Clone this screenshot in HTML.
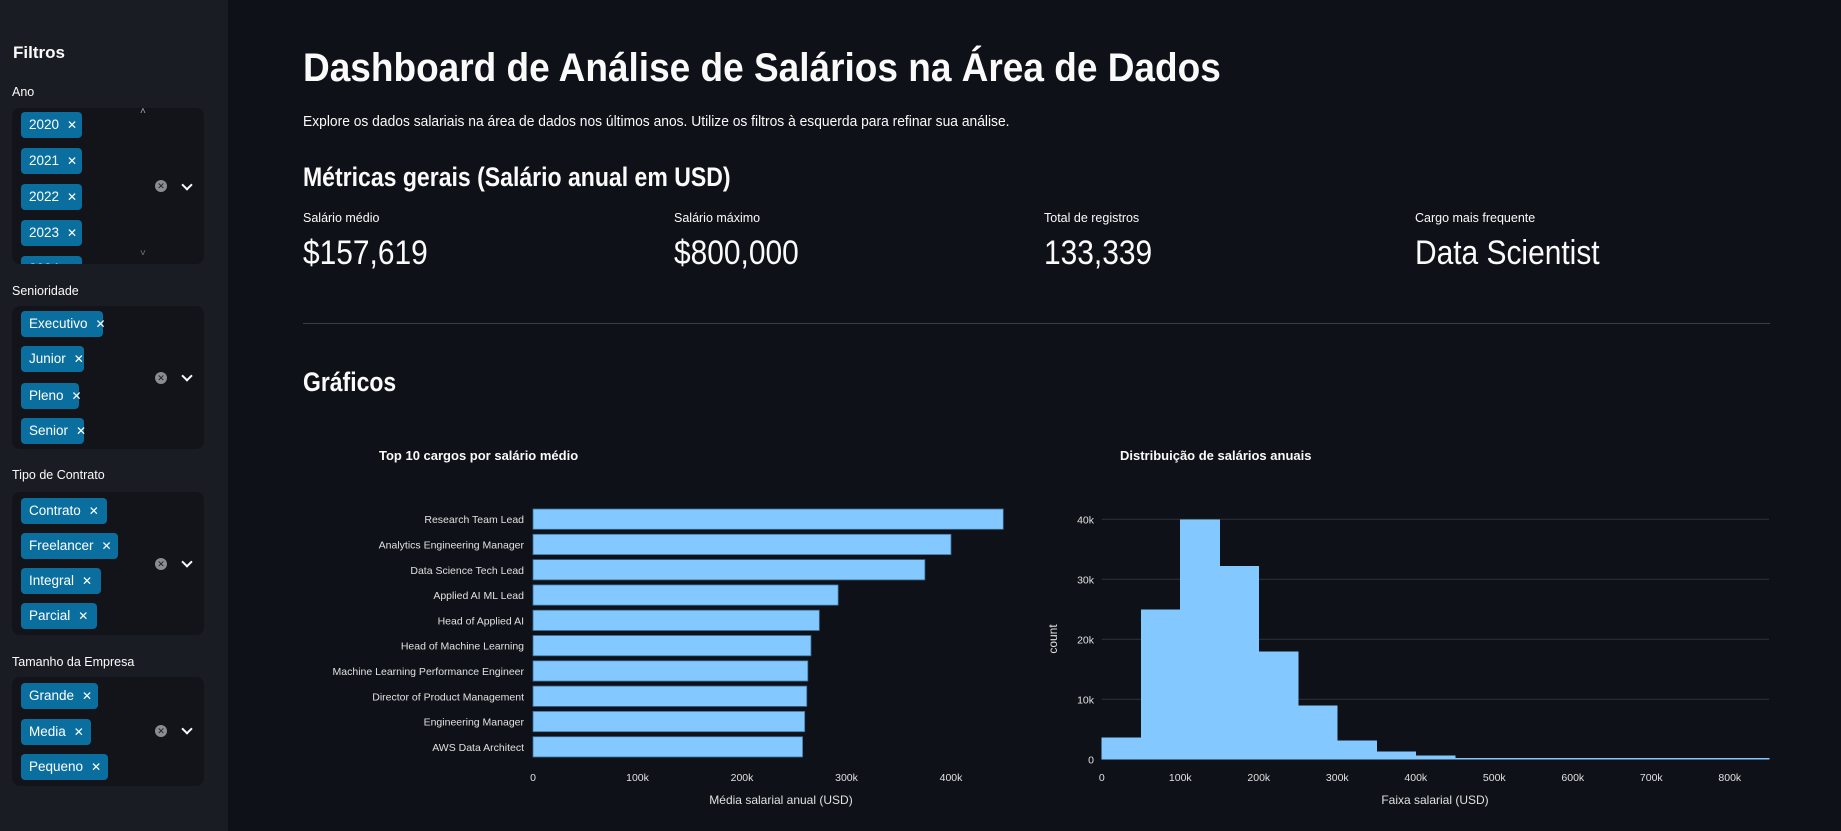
<!DOCTYPE html>
<html><head><meta charset="utf-8">
<style>
body{margin:0;width:1841px;height:831px;overflow:hidden;background:#0e1117;font-family:"Liberation Sans",sans-serif;color:#fafafa;position:relative}
.abs{position:absolute;white-space:nowrap}
#sidebar{position:absolute;left:0;top:0;width:228px;height:831px;background:#1a1c23}
.lbl{position:absolute;left:12px;font-size:12.5px;color:#fafafa}
.box{position:absolute;left:12px;width:192px;background:#12141a;border-radius:8px;overflow:hidden}
.tag{position:absolute;left:9px;height:26px;background:#0a6f9f;border-radius:4px;color:#fff;font-size:13.5px;line-height:26px;padding:0 8px;box-sizing:border-box}
.tag span{margin-left:8px;font-size:12px}
.clr{position:absolute;left:143px;width:12px;height:12px;border-radius:50%;background:#8a8c94;color:#1a1c23;font-size:9px;line-height:12px;text-align:center}
.chev{position:absolute;left:171px;width:6px;height:6px;border-right:2px solid #fafafa;border-bottom:2px solid #fafafa;transform:rotate(45deg)}
.sx{transform-origin:0 0;display:inline-block}
</style></head><body>
<div id="sidebar">
<div class="abs" style="left:13px;top:43px;font-size:17px;font-weight:bold">Filtros</div>

<div class="lbl" style="top:85px">Ano</div>
<div class="box" style="top:108px;height:156px">
 <div class="abs" style="left:128px;top:-2px;font-size:10px;color:#aaa">˄</div>
 <div class="tag" style="top:4px;width:61px">2020<span>✕</span></div>
 <div class="tag" style="top:40px;width:61px">2021<span>✕</span></div>
 <div class="tag" style="top:76px;width:61px">2022<span>✕</span></div>
 <div class="tag" style="top:112px;width:61px">2023<span>✕</span></div>
 <div class="tag" style="top:148px;width:61px">2024<span>✕</span></div>
 <div class="abs" style="left:128px;top:140px;font-size:10px;color:#777">˅</div>
 <div class="clr" style="top:72px">✕</div>
 <div class="chev" style="top:73px"></div>
</div>

<div class="lbl" style="top:284px">Senioridade</div>
<div class="box" style="top:306px;height:143px">
 <div class="tag" style="top:5px;width:82px">Executivo<span>✕</span></div>
 <div class="tag" style="top:40px;width:63px">Junior<span>✕</span></div>
 <div class="tag" style="top:77px;width:58px">Pleno<span>✕</span></div>
 <div class="tag" style="top:112px;width:63px">Senior<span>✕</span></div>
 <div class="clr" style="top:66px">✕</div>
 <div class="chev" style="top:66px"></div>
</div>

<div class="lbl" style="top:468px">Tipo de Contrato</div>
<div class="box" style="top:492px;height:143px">
 <div class="tag" style="top:6px;width:86px">Contrato<span>✕</span></div>
 <div class="tag" style="top:41px;width:97px">Freelancer<span>✕</span></div>
 <div class="tag" style="top:76px;width:80px">Integral<span>✕</span></div>
 <div class="tag" style="top:111px;width:76px">Parcial<span>✕</span></div>
 <div class="clr" style="top:66px">✕</div>
 <div class="chev" style="top:66px"></div>
</div>

<div class="lbl" style="top:655px">Tamanho da Empresa</div>
<div class="box" style="top:677px;height:109px">
 <div class="tag" style="top:6px;width:77px">Grande<span>✕</span></div>
 <div class="tag" style="top:42px;width:70px">Media<span>✕</span></div>
 <div class="tag" style="top:77px;width:87px">Pequeno<span>✕</span></div>
 <div class="clr" style="top:48px">✕</div>
 <div class="chev" style="top:48px"></div>
</div>
</div>

<div class="abs" style="left:303px;top:46px;font-size:40px;font-weight:bold"><span class="sx" style="transform:scaleX(0.925)">Dashboard de Análise de Salários na Área de Dados</span></div>
<div class="abs" style="left:303px;top:113px;font-size:15px"><span class="sx" style="transform:scaleX(0.922)">Explore os dados salariais na área de dados nos últimos anos. Utilize os filtros à esquerda para refinar sua análise.</span></div>
<div class="abs" style="left:303px;top:162px;font-size:27px;font-weight:bold"><span class="sx" style="transform:scaleX(0.853)">Métricas gerais (Salário anual em USD)</span></div>

<div class="abs" style="left:303px;top:211px;font-size:12.5px">Salário médio</div>
<div class="abs" style="left:303px;top:234px;font-size:34px"><span class="sx" style="transform:scaleX(0.88)">$157,619</span></div>
<div class="abs" style="left:674px;top:211px;font-size:12.5px">Salário máximo</div>
<div class="abs" style="left:674px;top:234px;font-size:34px"><span class="sx" style="transform:scaleX(0.88)">$800,000</span></div>
<div class="abs" style="left:1044px;top:211px;font-size:12.5px">Total de registros</div>
<div class="abs" style="left:1044px;top:234px;font-size:34px"><span class="sx" style="transform:scaleX(0.88)">133,339</span></div>
<div class="abs" style="left:1415px;top:211px;font-size:12.5px">Cargo mais frequente</div>
<div class="abs" style="left:1415px;top:234px;font-size:34px"><span class="sx" style="transform:scaleX(0.88)">Data Scientist</span></div>

<div class="abs" style="left:303px;top:323px;width:1467px;height:1px;background:#3a3d45"></div>
<div class="abs" style="left:303px;top:367px;font-size:27px;font-weight:bold"><span class="sx" style="transform:scaleX(0.85)">Gráficos</span></div>

<svg id="charts" class="abs" style="left:0;top:0" width="1841" height="831" font-family="Liberation Sans, sans-serif"></svg>

<script>
const jobs=["Research Team Lead","Analytics Engineering Manager","Data Science Tech Lead","Applied AI ML Lead","Head of Applied AI","Head of Machine Learning","Machine Learning Performance Engineer","Director of Product Management","Engineering Manager","AWS Data Architect"];
const avgSalary=[450000,400000,375000,292000,274000,266000,263000,262000,260000,258000];
const barTicks=[0,100000,200000,300000,400000];
const barTickLabels=["0","100k","200k","300k","400k"];
const binStarts=[0,50000,100000,150000,200000,250000,300000,350000,400000,450000,500000,550000,600000,650000,700000,750000,800000];
const binCounts=[3600,25000,40000,32200,18000,9000,3100,1300,600,120,100,80,60,50,40,30,30];
const binWidth=50000;
const histXTicks=[0,100000,200000,300000,400000,500000,600000,700000,800000];
const histXLabels=["0","100k","200k","300k","400k","500k","600k","700k","800k"];
const histYTicks=[0,10000,20000,30000,40000];
const histYLabels=["0","10k","20k","30k","40k"];

const NS="http://www.w3.org/2000/svg";
const svg=document.getElementById('charts');
function mk(tag,attrs,parent){const e=document.createElementNS(NS,tag);for(const k in attrs)e.setAttribute(k,attrs[k]);(parent||svg).appendChild(e);return e;}
function txt(s,attrs){const t=mk('text',attrs);t.textContent=s;return t;}

// Bar chart
const bx=v=>533+v/100000*104.5;
const bandTop=506.5,band=25.3;
const by=i=>bandTop+i*band;
let t=txt("Top 10 cargos por salário médio",{x:379,y:460,fill:"#fafafa","font-size":13,"font-weight":"bold"});


jobs.forEach((j,i)=>{
  const r=mk('rect',{x:bx(0),y:by(i)+2.5,width:bx(avgSalary[i])-bx(0),height:band-5,fill:"#83c9ff",stroke:"#3a6f99","stroke-width":0.8});
  
  
  const l=txt(j,{x:524,y:by(i)+band/2+4,fill:"#e0e0e0","font-size":10.5,"text-anchor":"end"});
  
  
});
barTicks.forEach((v,i)=>{
  const l=txt(barTickLabels[i],{x:bx(v),y:781,fill:"#e0e0e0","font-size":10.5,"text-anchor":"middle"});
  
  
});
t=txt("Média salarial anual (USD)",{x:781,y:804,fill:"#e0e0e0","font-size":12,"text-anchor":"middle"});



// Histogram
const hx=v=>1101.8+v/100000*78.5;
const hy=v=>759.3-v/10000*60;
t=txt("Distribuição de salários anuais",{x:1120,y:460,fill:"#fafafa","font-size":13,"font-weight":"bold"});


histYTicks.forEach((v,i)=>{
  if(v>0){const g=mk('line',{x1:hx(0),x2:1769,y1:hy(v),y2:hy(v),stroke:"#30333b","stroke-width":1});
  
  }
  const l=txt(histYLabels[i],{x:1094,y:hy(v)+4,fill:"#e0e0e0","font-size":10.5,"text-anchor":"end"});
  
  
});
binStarts.forEach((s,i)=>{
  const h=Math.max(hy(0)-hy(binCounts[i]),1.2);
  const r=mk('rect',{x:hx(s)-0.3,y:hy(0)-h,width:hx(s+binWidth)-hx(s)+0.6,height:h,fill:"#83c9ff","shape-rendering":"crispEdges"});
  
  
});
histXTicks.forEach((v,i)=>{
  const l=txt(histXLabels[i],{x:hx(v),y:781,fill:"#e0e0e0","font-size":10.5,"text-anchor":"middle"});
  
  
});
t=txt("Faixa salarial (USD)",{x:1435,y:804,fill:"#e0e0e0","font-size":12,"text-anchor":"middle"});


t=txt("count",{x:0,y:0,fill:"#e0e0e0","font-size":12,"text-anchor":"middle",transform:"translate(1057,639) rotate(-90)"});


</script>
</body></html>
